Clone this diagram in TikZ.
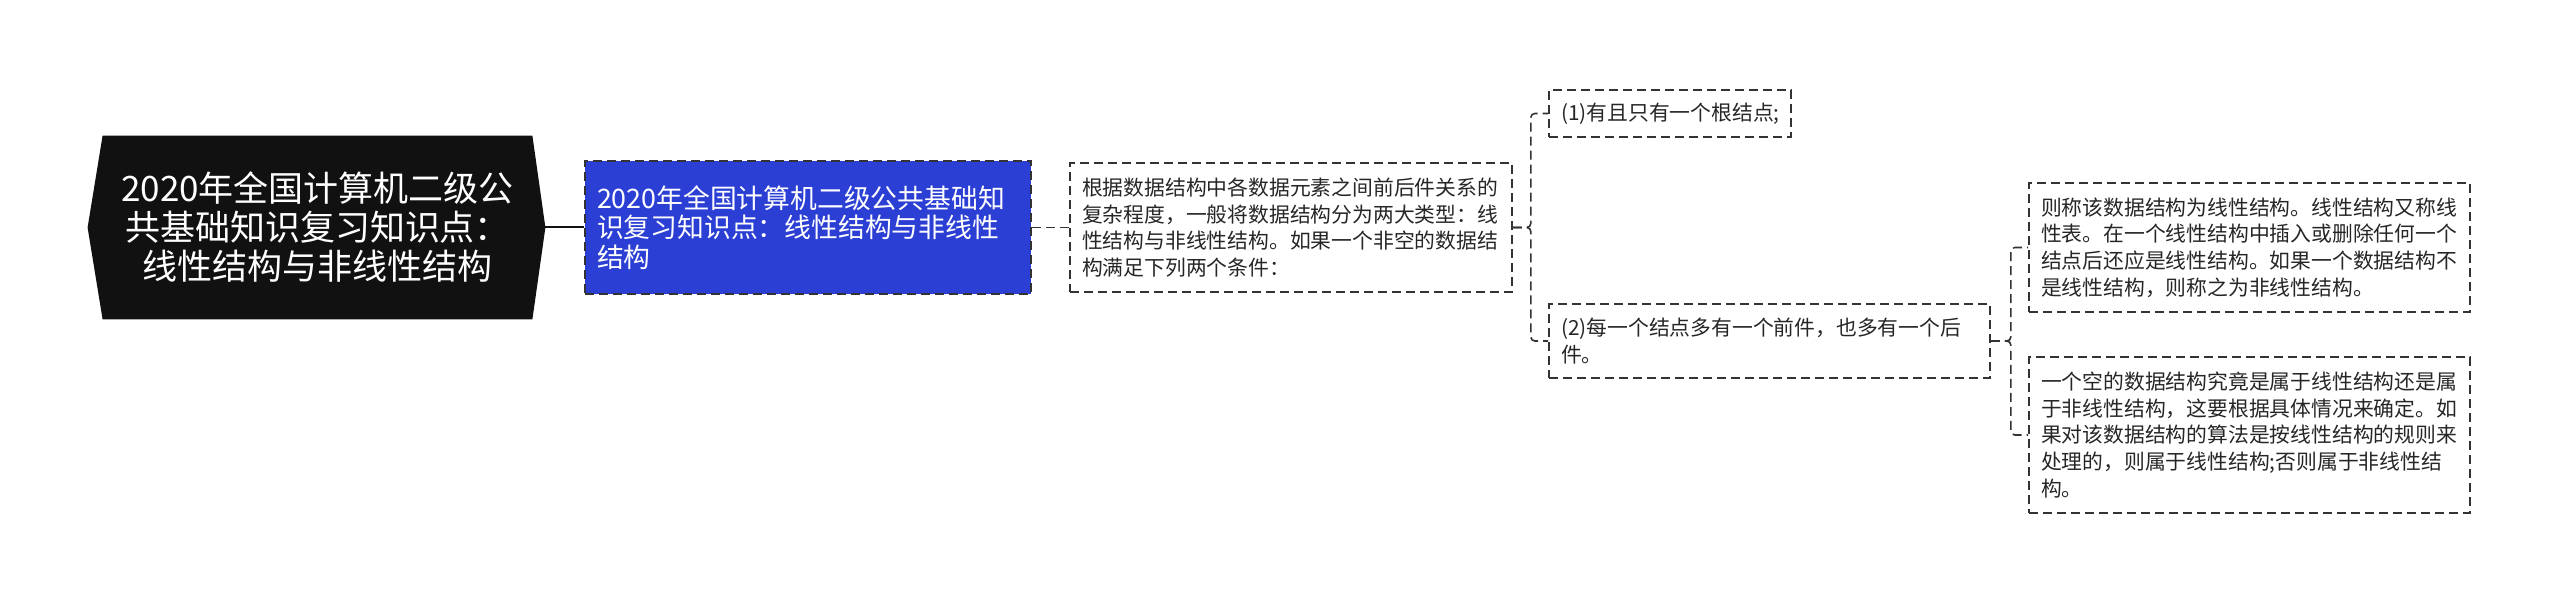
\documentclass[tikz,border=0pt]{standalone}
\usepackage{fontspec}
\setmainfont{Noto Sans CJK SC}
\usepackage{tikz}
\usetikzlibrary{backgrounds}
\definecolor{rootblack}{HTML}{111111}
\definecolor{topicblue}{RGB}{43,63,212}
\definecolor{linegray}{HTML}{333333}

\begin{document}
\begin{tikzpicture}[x=0.5pt,y=-0.5pt,
    link/.style={draw=linegray,line width=0.8pt,dash pattern=on 4.5pt off 2.5pt,rounded corners=2pt},
    dashbox/.style={draw=linegray,line width=0.8pt,dash pattern=on 4.5pt off 2.5pt,inner xsep=6pt,inner ysep=2pt,align=left},
    rootbox/.style={text=white,align=center,minimum width=214.5pt,minimum height=91.5pt,inner sep=0pt,font=\fontsize{17.5pt}{19.5pt}\selectfont},
    topicbox/.style={dashbox,fill=topicblue,text=white,text width=211pt,minimum height=66.5pt,font=\fontsize{13.4pt}{14.8pt}\selectfont},
    notebox/.style 2 args={dashbox,text=black!85,text width=#1,minimum height=#2,font=\fontsize{10.4pt}{13.3pt}\selectfont}]
    \useasboundingbox (0,0) rectangle (2560,603);

    % root
    \node[rootbox] (root) at (317.5,227.5) {2020年全国计算机二级公\\共基础知识复习知识点：\\线性结构与非线性结构};
    \coordinate (roottip) at ([xshift=6.5pt]root.east);
    \begin{scope}[on background layer]
        \fill[rootblack] ([xshift=-7.5pt]root.west) -- (root.north west) -- (root.north east)
            -- (roottip) -- (root.south east) -- (root.south west) -- cycle;
    \end{scope}

    \node[topicbox] (topic) at (808,227.5) {2020年全国计算机二级公共基础知\\识复习知识点：线性结构与非线性\\结构};
    \node[notebox={209pt}{64.5pt}] (n1) at (1291,227.5) {根据数据结构中各数据元素之间前后件关系的\\复杂程度，一般将数据结构分为两大类型：线\\性结构与非线性结构。如果一个非空的数据结\\构满足下列两个条件：};
    \node[notebox={109pt}{23.5pt}] (c1) at (1670,113.5) {(1)有且只有一个根结点;};
    \node[notebox={208.5pt}{37pt}] (c2) at (1769.5,341) {(2)每一个结点多有一个前件，也多有一个后\\件。};
    \node[notebox={208.5pt}{64.5pt}] (d1) at (2249.5,247.5) {则称该数据结构为线性结构。线性结构又称线\\性表。在一个线性结构中插入或删除任何一个\\结点后还应是线性结构。如果一个数据结构不\\是线性结构，则称之为非线性结构。};
    \node[notebox={208.5pt}{78pt}] (d2) at (2249.5,435) {一个空的数据结构究竟是属于线性结构还是属\\于非线性结构，这要根据具体情况来确定。如\\果对该数据结构的算法是按线性结构的规则来\\处理的，则属于线性结构;否则属于非线性结\\构。};

    % connectors
    \draw[rootblack,line width=1pt] (roottip) -- (topic.west);
    \draw[link] (topic.east) -- (n1.west);
    \draw[link] (n1.east) -- ++(18,0) |- (c1.west);
    \draw[link] (n1.east) -- ++(18,0) |- (c2.west);
    \draw[link] (c2.east) -- ++(20,0) |- (d1.west);
    \draw[link] (c2.east) -- ++(20,0) |- (d2.west);
\end{tikzpicture}
\end{document}
